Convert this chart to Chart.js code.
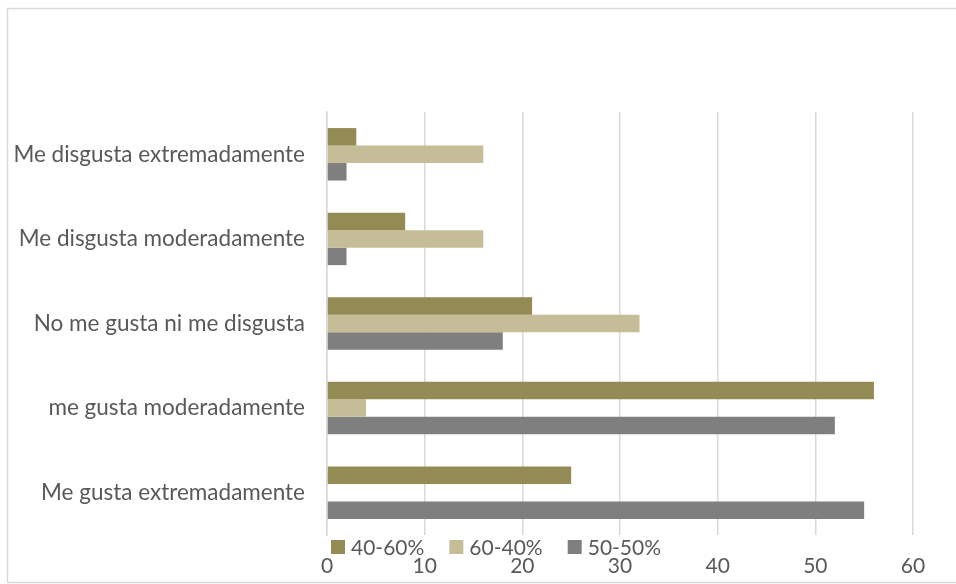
<!DOCTYPE html>
<html>
<head>
<meta charset="utf-8">
<script src="https://cdn.jsdelivr.net/npm/chart.js@4/dist/chart.umd.min.js"></script>
<style>
  html, body { margin: 0; padding: 0; background: #fff; }
  #wrap { width: 956px; height: 584px; position: relative; }
</style>
</head>
<body>
<div id="wrap"><canvas id="c" width="956" height="584"></canvas></div>
<script>
// Survey answers, listed top to bottom
const categories = [
  'Me disgusta extremadamente',
  'Me disgusta moderadamente',
  'No me gusta ni me disgusta',
  'me gusta moderadamente',
  'Me gusta extremadamente'
];
const seriesNames = ['40-60%', '60-40%', '50-50%'];
const values4060 = [3, 8, 21, 56, 25];
const values6040 = [16, 16, 32, 4, 0];
const values5050 = [2, 2, 18, 52, 55];
const xTicks = [0, 10, 20, 30, 40, 50, 60];

const colors = ['#948A54', '#C4BD97', '#7F7F7F'];
const textColor = '#595959';
const gridColor = '#d9d9d9';
const fontFamily = 'Lato, "Open Sans", sans-serif';
const fontSize = 21;
const categoryFontSize = 22.5;

// Outer frame around the whole chart
const framePlugin = {
  id: 'frame',
  beforeDraw(chart) {
    const ctx = chart.ctx;
    ctx.save();
    ctx.strokeStyle = gridColor;
    ctx.lineWidth = 1.5;
    ctx.strokeRect(7.5, 8.5, 970, 574);
    ctx.restore();
  }
};

// Legend row drawn between the plot and the value labels
const legendRowPlugin = {
  id: 'legendRow',
  afterDraw(chart) {
    const ctx = chart.ctx;
    const y = chart.chartArea.bottom + 12;
    let x = chart.chartArea.left + 4;
    ctx.save();
    ctx.font = fontSize + 'px ' + fontFamily;
    ctx.textBaseline = 'middle';
    ctx.textAlign = 'left';
    chart.data.datasets.forEach(ds => {
      ctx.fillStyle = ds.backgroundColor;
      ctx.fillRect(x, y - 7, 14, 14);
      x += 20;
      ctx.fillStyle = textColor;
      ctx.fillText(ds.label, x, y + 1);
      x += ctx.measureText(ds.label).width + 25;
    });
    ctx.restore();
  }
};

new Chart(document.getElementById('c'), {
  type: 'bar',
  data: {
    labels: categories,
    datasets: [
      { label: seriesNames[0], data: values4060, backgroundColor: colors[0] },
      { label: seriesNames[1], data: values6040, backgroundColor: colors[1] },
      { label: seriesNames[2], data: values5050, backgroundColor: colors[2] }
    ]
  },
  options: {
    indexAxis: 'y',
    responsive: false,
    animation: false,
    devicePixelRatio: 1,
    categoryPercentage: 0.62,
    barPercentage: 1.0,
    layout: { padding: { left: 0, right: 43, top: 112, bottom: 0 } },
    plugins: {
      legend: { display: false },
      tooltip: { enabled: false }
    },
    scales: {
      x: {
        min: 0,
        max: 60,
        afterBuildTicks(scale) { scale.ticks = xTicks.map(v => ({ value: v })); },
        afterFit(scale) { scale.height = 49; },
        grid: { color: gridColor, lineWidth: 1.5, drawTicks: false },
        border: { display: false },
        ticks: {
          padding: 19,
          color: textColor,
          font: { family: fontFamily, size: fontSize }
        }
      },
      y: {
        afterFit(scale) { scale.width = 327; },
        grid: { display: false, drawTicks: false },
        border: { display: true, color: gridColor, width: 1.5 },
        ticks: {
          padding: 22,
          color: textColor,
          font: { family: fontFamily, size: categoryFontSize }
        }
      }
    }
  },
  plugins: [framePlugin, legendRowPlugin]
});
</script>
</body>
</html>
